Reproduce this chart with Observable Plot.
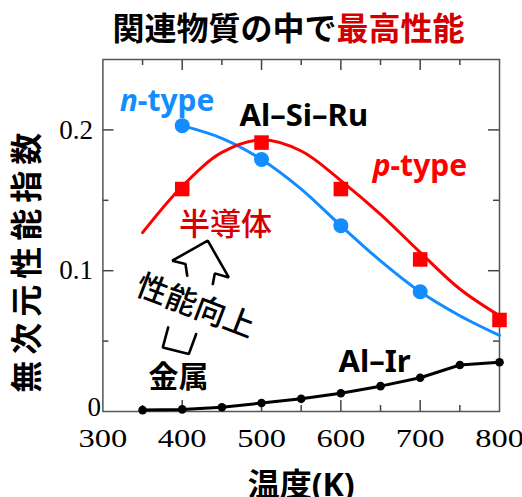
<!DOCTYPE html>
<html><head><meta charset="utf-8">
<script src="https://cdn.jsdelivr.net/npm/d3@7"></script>
<script src="https://cdn.jsdelivr.net/npm/@observablehq/plot@0.6"></script>
<style>
body{margin:0;background:#fff;width:522px;height:497px;overflow:hidden}
#title{height:45px;line-height:52px;font-family:"Noto Sans CJK JP",sans-serif;font-weight:bold;font-size:32px;padding-left:55px;text-align:center;color:#000;white-space:nowrap}
#title .hl{color:#d40000}
#chart svg{display:block}
</style></head>
<body>
<div id="title">関連物質の中で<span class="hl">最高性能</span></div>
<div id="chart"></div>
<script>
// ---- data ----
const nTemps = [400, 500, 600, 700];
const nValues = [0.203, 0.179, 0.132, 0.085];
const pTemps = [400, 500, 600, 700, 800];
const pValues = [0.158, 0.191, 0.158, 0.108, 0.065];
const nFitTemps = [400, 450, 500, 550, 600, 650, 700, 750, 800];
const nFitValues = [0.203, 0.194, 0.179, 0.158, 0.132, 0.107, 0.085, 0.068, 0.054];
const pFitTemps = [350, 400, 450, 500, 550, 600, 650, 700, 750, 800];
const pFitValues = [0.127, 0.160, 0.184, 0.193, 0.185, 0.164, 0.140, 0.113, 0.087, 0.068];
const irTemps = [350, 400, 450, 500, 550, 600, 650, 700, 750, 800];
const irValues = [0.001, 0.0015, 0.003, 0.006, 0.009, 0.013, 0.018, 0.024, 0.033, 0.035];
const xTickLabels = [300, 400, 500, 600, 700, 800];
const xMajorTicks = [400, 500, 600, 700];
const xMinorTicks = [350, 450, 550, 650, 750];
const yTickLabels = [0.1, 0.2];
const yMajorTicks = [0.1, 0.2];
const yMinorTicks = [0.05, 0.15];
// annotation arrow (in data units)
const arrowHeadT = [406.3, 404.1, 387.4, 432.2, 458.7, 441.1, 438.6];
const arrowHeadV = [0.0964, 0.1048, 0.1071, 0.1213, 0.0952, 0.0981, 0.0905];
const arrowTailT = [382.3, 375.5, 408.3, 417.6];
const arrowTailV = [0.0597, 0.0455, 0.0408, 0.0550];
const xLabel = "温度(K)";
const yLabel = "無次元性能指数";

const zip = (a, b) => a.map((x, i) => ({x, y: b[i]}));
const BLUE = "#128cff", RED = "#ff0000", DARKRED = "#d40000";
const SANS = '"Noto Sans","Noto Sans CJK JP",sans-serif';
const CJK = '"Noto Sans CJK JP",sans-serif';
const SERIF = '"Liberation Serif","Times New Roman",serif';

const W = 522, H = 452, mt = 14, mb = 86, ml = 102.4, mr = 23;
const fh = H - mt - mb, fw = W - ml - mr;
const TS = 11, TM = 6, TC = "#444";

const chart = Plot.plot({
  width: W, height: H, marginTop: mt, marginBottom: mb, marginLeft: ml, marginRight: mr,
  x: {domain: [300, 800]},
  y: {domain: [0, 0.25]},
  style: {background: "white", overflow: "visible"},
  marks: [
    // inside ticks on all four sides
    Plot.tickX(xMajorTicks, {x: d => d, insetTop: fh - TS, stroke: TC, strokeWidth: 1.5}),
    Plot.tickX(xMajorTicks, {x: d => d, insetBottom: fh - TS, stroke: TC, strokeWidth: 1.5}),
    Plot.tickX(xMinorTicks, {x: d => d, insetTop: fh - TM, stroke: TC, strokeWidth: 1.5}),
    Plot.tickX(xMinorTicks, {x: d => d, insetBottom: fh - TM, stroke: TC, strokeWidth: 1.5}),
    Plot.tickY(yMajorTicks, {y: d => d, insetRight: fw - TS, stroke: TC, strokeWidth: 1.5}),
    Plot.tickY(yMajorTicks, {y: d => d, insetLeft: fw - TS, stroke: TC, strokeWidth: 1.5}),
    Plot.tickY(yMinorTicks, {y: d => d, insetRight: fw - TM, stroke: TC, strokeWidth: 1.5}),
    Plot.tickY(yMinorTicks, {y: d => d, insetLeft: fw - TM, stroke: TC, strokeWidth: 1.5}),
    Plot.frame({stroke: "#555", strokeWidth: 1.5}),
    Plot.axisX({ticks: xTickLabels, tickSize: 0, tickPadding: 17, fontSize: 26, fontFamily: SERIF, tickFormat: d => String(d), label: null}),
    Plot.axisY({ticks: yTickLabels, tickSize: 0, tickPadding: 10, fontSize: 27, fontFamily: SERIF, tickFormat: d => d.toFixed(1), label: null}),
    Plot.text(["0"], {frameAnchor: "bottom-left", dx: -2, dy: -4, textAnchor: "end", lineAnchor: "middle", fontSize: 27, fontFamily: SERIF}),
    Plot.text([xLabel], {frameAnchor: "bottom", dy: 74, lineAnchor: "middle", fontSize: 32, fontWeight: "bold", fontFamily: SANS}),
    Plot.text([yLabel], {frameAnchor: "left", y: () => 0.1078, dx: -75, rotate: -90, textAnchor: "middle", lineAnchor: "middle", fontSize: 32, fontWeight: "bold", fontFamily: CJK}),
    // curves
    Plot.line(zip(nFitTemps, nFitValues), {x: "x", y: "y", stroke: BLUE, strokeWidth: 3, curve: "catmull-rom"}),
    Plot.line(zip(pFitTemps, pFitValues), {x: "x", y: "y", stroke: RED, strokeWidth: 3, curve: "catmull-rom"}),
    Plot.line(zip(irTemps, irValues), {x: "x", y: "y", stroke: "#000", strokeWidth: 3}),
    Plot.dot(zip(irTemps, irValues), {x: "x", y: "y", r: 4.3, fill: "#000"}),
    Plot.dot(zip(nTemps, nValues), {x: "x", y: "y", r: 7.5, fill: BLUE}),
    Plot.dot(zip(pTemps, pValues), {x: "x", y: "y", r: 8.2, symbol: "square", fill: RED}),
    // annotations
    Plot.line(zip(arrowHeadT, arrowHeadV), {x: "x", y: "y", stroke: "#000", strokeWidth: 2.6, strokeLinejoin: "miter"}),
    Plot.line(zip(arrowTailT, arrowTailV), {x: "x", y: "y", stroke: "#000", strokeWidth: 2.6, strokeLinejoin: "miter"}),
    Plot.text(["n"], {x: () => 344, y: () => 0.2205, textAnchor: "end", fontSize: 30, fontStyle: "italic", fontWeight: "bold", fontFamily: SANS, fill: BLUE}),
    Plot.text(["-type"], {x: () => 344, y: () => 0.2205, textAnchor: "start", fontSize: 30, fontWeight: "bold", fontFamily: SANS, fill: BLUE}),
    Plot.text(["p"], {x: () => 662.6, y: () => 0.1743, textAnchor: "end", fontSize: 30, fontStyle: "italic", fontWeight: "bold", fontFamily: SANS, fill: RED}),
    Plot.text(["-type"], {x: () => 662.6, y: () => 0.1743, textAnchor: "start", fontSize: 30, fontWeight: "bold", fontFamily: SANS, fill: RED}),
    Plot.text(["Al–Si–Ru"], {x: () => 553.3, y: () => 0.2099, fontSize: 31, fontWeight: "bold", fontFamily: SANS, fill: "#000"}),
    Plot.text(["Al–Ir"], {x: () => 642.4, y: () => 0.0353, fontSize: 31, fontWeight: "bold", fontFamily: SANS, fill: "#000"}),
    Plot.text(["半導体"], {x: () => 454.6, y: () => 0.1325, fontSize: 31, fontWeight: 500, fontFamily: CJK, fill: DARKRED}),
    Plot.text(["金属"], {x: () => 395.3, y: () => 0.0239, fontSize: 30, fontWeight: "bold", fontFamily: CJK, fill: "#000"}),
    Plot.text(["性能向上"], {x: () => 416.7, y: () => 0.0744, rotate: 21, fontSize: 31, fontWeight: 500, fontFamily: CJK, fill: "#000"})
  ]
});
document.getElementById("chart").appendChild(chart);
const svg = d3.select(chart);
svg.selectAll("text").filter(function() { return this.textContent === yLabel; }).style("letter-spacing", "6px");
// widen the x tick label glyphs as in the reference (scale about each label's anchor)
svg.selectAll('[aria-label="x-axis tick label"] text').each(function() {
  const el = d3.select(this);
  const xa = el.attr("x");
  const xn = xa != null && isFinite(+xa) ? +xa : 0;
  if (xa != null && isFinite(+xa)) el.attr("x", null);
  const t = el.attr("transform") || "";
  el.attr("transform", `${t} translate(${xn},0) scale(1.25,1)`);
});
</script>
</body></html>
